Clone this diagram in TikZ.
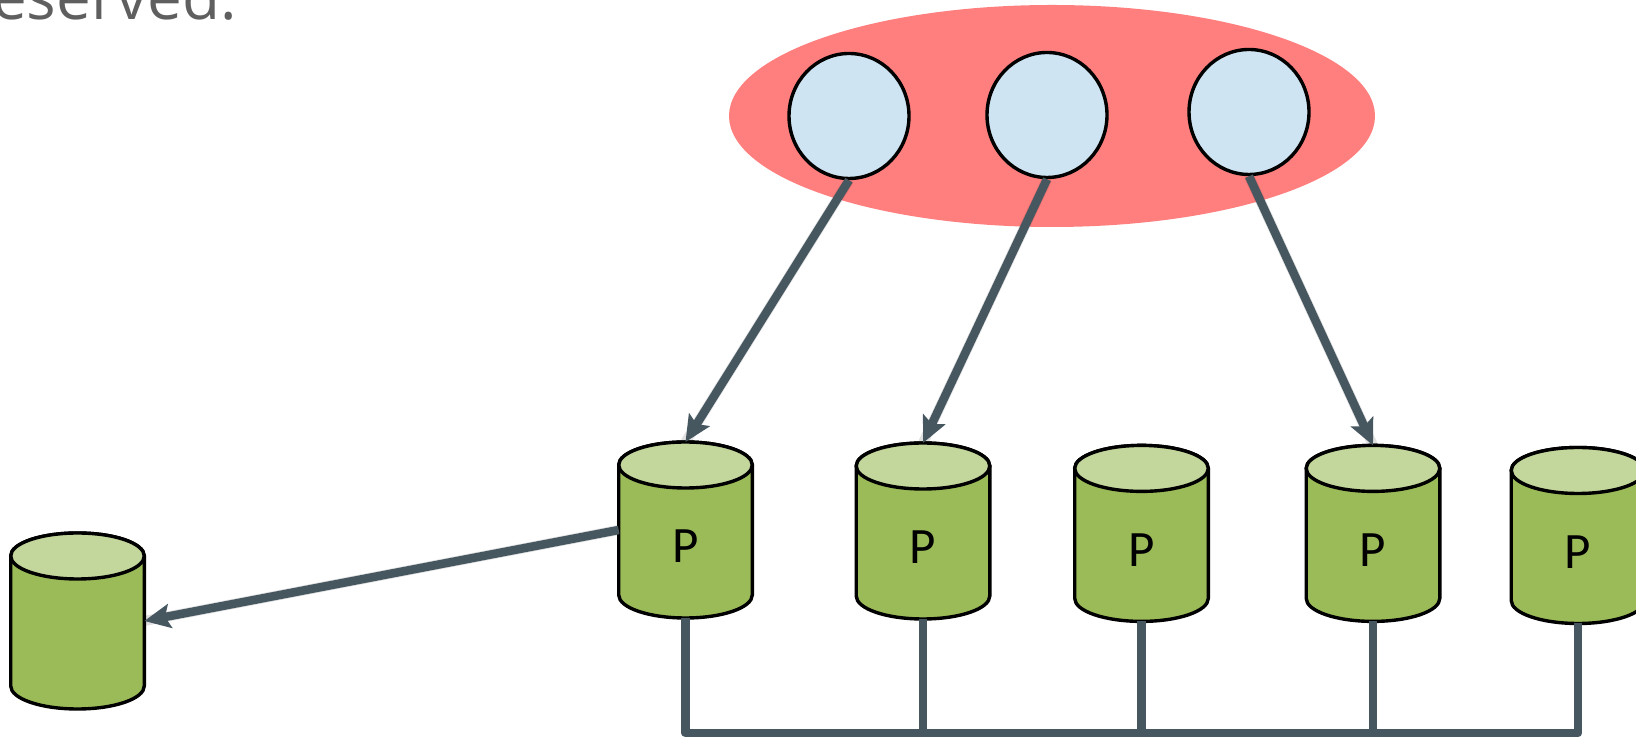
\documentclass[tikz,border=0pt]{standalone}
\usepackage{fontspec}
\usetikzlibrary{shapes.geometric,arrows.meta}
\newfontfamily\labfont{Carlito}
\newfontfamily\hdrfont{Open Sans}
\definecolor{redblob}{HTML}{FF7F7F}
\definecolor{bubble}{HTML}{CFE4F3}
\definecolor{cylbody}{HTML}{9BBB59}
\definecolor{cyltop}{HTML}{C3D69B}
\definecolor{connc}{HTML}{465760}
\definecolor{txtgray}{HTML}{5F5F5F}
\tikzset{
  outline/.style={draw=black, line width=3.4pt},
  bubblenode/.style={ellipse, outline, fill=bubble, minimum width=120pt, minimum height=125pt, inner sep=0pt},
  conn/.style={draw=connc, line width=8.5pt},
  arr/.style={conn, -{Stealth[length=26pt, width=24pt, inset=5pt]}},
  shadowline/.style={draw=black, opacity=0.12, line width=10pt, xshift=2pt, yshift=-3pt},
  buslink/.style={conn, line join=round},
  cyl/.pic={
    \path[outline, fill=cylbody]
      (-66.8,65) -- (-66.8,-65)
      arc[start angle=180, end angle=360, x radius=66.8pt, y radius=23pt]
      -- (66.8,65)
      arc[start angle=0, end angle=180, x radius=66.8pt, y radius=23pt] -- cycle;
    \path[outline, fill=cyltop] (0,65) ellipse[x radius=66.8pt, y radius=23pt];
    \node[inner sep=0pt, outer sep=0pt, minimum width=133.6pt, minimum height=176pt] (-n) at (0,0) {};
    \node[font=\labfont\fontsize{51}{51}\selectfont, inner sep=0pt] (-l) at (0,-16.5) {#1};
  }
}
\begin{document}
\begin{tikzpicture}[x=1pt, y=1pt]
\useasboundingbox (0,0) rectangle (1636,738);
% header text (cut off)
\node[font=\hdrfont\fontsize{62}{62}\selectfont, text=txtgray, anchor=base west, inner sep=0pt] (hdr) at (-8,718) {eserved.};
% red group
\node[ellipse, fill=redblob, minimum width=646pt, minimum height=222pt, inner sep=0pt] (grp) at (1052,622) {};
\node[bubblenode] (b1) at (849,622) {};
\node[bubblenode] (b2) at (1047,623) {};
\node[bubblenode] (b3) at (1249,626) {};
% cylinders
\pic (c0) at (77.5,117) {cyl={}};
\pic (c1) at (685.5,208) {cyl=P};
\pic (c2) at (923,207) {cyl=P};
\pic (c3) at (1141.5,204.6) {cyl=P};
\pic (c4) at (1373,204.6) {cyl=P};
\pic (c5) at (1578,202.5) {cyl=P};
% arrow shadows
\draw[shadowline] (b1.south) -- (c1-n.north);
\draw[shadowline] (b2.south) -- (c2-n.north);
\draw[shadowline] (b3.south) -- (c4-n.north);
\draw[shadowline] (c1-n.west) -- (c0-n.east);
% arrows
\draw[arr] (b1.south) -- (c1-n.north);
\draw[arr] (b2.south) -- (c2-n.north);
\draw[arr] (b3.south) -- (c4-n.north);
\draw[arr] (c1-n.west) -- (c0-n.east);
% bus
\coordinate (bus) at (0,5);
\draw[buslink] (c1-n.south) -- (c1-n.south |- bus) -- (c5-n.south |- bus) -- (c5-n.south);
\draw[buslink] (c2-n.south) -- (c2-n.south |- bus);
\draw[buslink] (c3-n.south) -- (c3-n.south |- bus);
\draw[buslink] (c4-n.south) -- (c4-n.south |- bus);
\end{tikzpicture}
\end{document}
